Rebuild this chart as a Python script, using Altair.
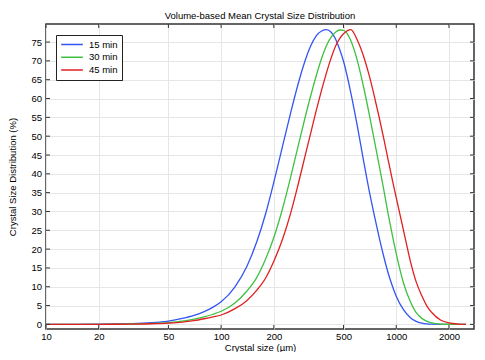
import altair as alt
import pandas as pd

# ---- data ----
size_um = [10, 15, 20, 25, 30, 40, 50, 60, 70, 80, 90, 100, 120, 140, 160, 180, 200,
           225, 250, 275, 300, 325, 350, 375, 400, 425, 450, 475, 500, 550, 600, 650,
           700, 750, 800, 850, 900, 950, 1000, 1100, 1200, 1300, 1400, 1500, 1600,
           1800, 2000, 2250, 2500]

dist_15 = [0, 0.02, 0.06, 0.12, 0.2, 0.45, 0.9, 1.6, 2.4, 3.4, 4.6, 6.0, 10.0, 15.3, 22.0, 29.6, 37.8,
           47.6, 56.4, 63.8, 69.7, 74.0, 76.7, 77.95, 78.3, 77.6, 75.8, 73.1, 69.9, 61.6, 52.6, 43.6,
           35.6, 28.9, 23.0, 17.9, 13.6, 10.2, 7.5, 3.9, 1.85, 0.8, 0.32, 0.12, 0.05,
           0.01, 0, 0, 0]

dist_30 = [0, 0.01, 0.03, 0.065, 0.11, 0.25, 0.48, 0.85, 1.4, 2.0, 2.7, 3.5, 5.7, 8.8, 12.5, 17.5, 23.1,
           31.0, 39.3, 47.3, 54.5, 60.8, 66.2, 70.7, 74.1, 76.3, 77.6, 78.2, 78.1, 75.4, 70.0, 63.2,
           56.0, 48.8, 42.1, 35.6, 29.2, 23.7, 18.8, 11.0, 6.2, 3.1, 1.6, 0.8, 0.4,
           0.1, 0.03, 0, 0]

dist_45 = [0, 0.01, 0.02, 0.045, 0.08, 0.18, 0.35, 0.6, 1.0, 1.5, 2.0, 2.5, 4.2, 6.3, 9.1, 12.4, 16.75,
           22.8, 29.7, 37.1, 44.3, 50.9, 57.0, 62.3, 66.9, 70.8, 73.9, 75.9, 77.2, 78.3, 75.5, 71.3,
           66.2, 60.6, 54.9, 49.2, 43.6, 38.4, 33.7, 25.0, 17.1, 11.3, 7.6, 4.8, 3.1,
           1.1, 0.4, 0.1, 0.02]

series_names = ["15 min", "30 min", "45 min"]
series_colors = ["#3355f5", "#40c040", "#e02020"]
x_ticks = [10, 20, 50, 100, 200, 500, 1000, 2000]
y_ticks = list(range(0, 80, 5))

rows = []
for name, vals in zip(series_names, [dist_15, dist_30, dist_45]):
    for s, v in zip(size_um, vals):
        rows.append({"size": s, "dist": v, "series": name})
df = pd.DataFrame(rows)

W, H = 428, 305
FONT = "Liberation Sans"
xscale = alt.Scale(type="log", domain=[10, 2780], nice=False)
yscale = alt.Scale(domain=[-1.22, 79.8], nice=False, zero=False)

xaxis = alt.Axis(values=x_ticks, format="d", title="Crystal size (µm)",
                 grid=True, gridColor="#e6e6e6", tickSize=0, domain=False,
                 labelPadding=2.5, labelFlush=False,
                 titleBaseline="alphabetic", titleY=21.5, titleX=W / 2)
yaxis = alt.Axis(values=y_ticks, title="Crystal Size Distribution (%)",
                 grid=True, gridColor="#e6e6e6", tickSize=0, domain=False,
                 labelPadding=4.5, titleBaseline="alphabetic", titleX=-30.5,
                 titleY=H / 2, titleAngle=270)

lines = alt.Chart(df).mark_line(strokeWidth=1.3, interpolate="monotone").encode(
    x=alt.X("size:Q", scale=xscale, axis=xaxis),
    y=alt.Y("dist:Q", scale=yscale, axis=yaxis),
    color=alt.Color("series:N",
                    scale=alt.Scale(domain=series_names, range=series_colors),
                    legend=alt.Legend(title=None, orient="none", legendX=10, legendY=11,
                                      symbolType="stroke", symbolSize=471,
                                      symbolStrokeWidth=1.5, clipHeight=11, rowPadding=1.7,
                                      padding=4, strokeColor="#222", fillColor="white",
                                      labelOffset=5, labelFontSize=9.5, labelFont=FONT,
                                      labelColor="black")),
)

ydf = pd.DataFrame({"v": y_ticks})
xdf = pd.DataFrame({"s": x_ticks})
tick_color = "#333333"
left_ticks = alt.Chart(ydf).mark_rule(color=tick_color, strokeWidth=1).encode(
    y=alt.Y("v:Q", scale=yscale, axis=yaxis), x=alt.value(0), x2=alt.value(4))
right_ticks = alt.Chart(ydf).mark_rule(color=tick_color, strokeWidth=1).encode(
    y=alt.Y("v:Q", scale=yscale, axis=yaxis), x=alt.value(W - 4), x2=alt.value(W))
bottom_ticks = alt.Chart(xdf).mark_rule(color=tick_color, strokeWidth=1).encode(
    x=alt.X("s:Q", scale=xscale, axis=xaxis), y=alt.value(H - 4), y2=alt.value(H))
top_ticks = alt.Chart(xdf).mark_rule(color=tick_color, strokeWidth=1).encode(
    x=alt.X("s:Q", scale=xscale, axis=xaxis), y=alt.value(0), y2=alt.value(4))

shadow = alt.Chart(pd.DataFrame({"a": [0]})).mark_rect(color="#666666").encode(
    x=alt.value(12), x2=alt.value(77), y=alt.value(13), y2=alt.value(57))

chart = alt.layer(lines, left_ticks, right_ticks, bottom_ticks, top_ticks, shadow).properties(
    width=W, height=H,
    autosize=alt.AutoSizeParams(type="none"),
    padding={"left": 38, "top": 16, "right": 3, "bottom": 23},
    title=alt.TitleParams("Volume-based Mean Crystal Size Distribution", fontSize=9.5,
                          fontWeight="normal", font=FONT, anchor="middle", offset=3,
                          color="black"),
).configure_view(stroke="#333333", strokeWidth=1.5).configure_axis(
    labelFont=FONT, titleFont=FONT, labelFontSize=9.5, titleFontSize=9.5,
    labelColor="black", titleColor="black", titleFontWeight="normal")

chart.save("out.html", embed_options={"renderer": "svg", "actions": False})
